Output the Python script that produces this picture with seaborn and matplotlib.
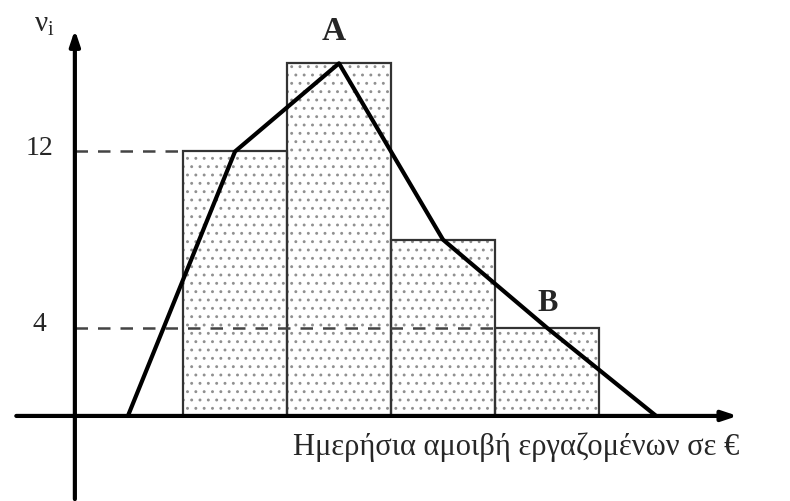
import matplotlib
matplotlib.use("Agg")
import matplotlib.pyplot as plt
import seaborn as sns

# class mid points (in class-width units) and frequencies
class_mids = [1.5, 2.5, 3.5, 4.5]
freqs = [12, 16, 8, 4]

# frequency polygon
poly_x = [0.47, 1.5, 2.5, 3.5, 4.5, 5.55]
poly_y = [0, 12, 16, 8, 4, 0]

ytick_vals = [4, 12]
ytick_labels = ["4", "12"]
x_label = "Ημερήσια αμοιβή εργαζομένων σε €"

sns.set_style("white")
plt.rcParams["font.family"] = ["Liberation Serif", "DejaVu Serif"]
plt.rcParams["hatch.linewidth"] = 0.9

fig = plt.figure(figsize=(7.9, 5.02), dpi=100)
ax = fig.add_axes([0, 0, 1, 1])
ax.set_xlim(-0.76, 6.837)
ax.set_ylim(-3.86, 18.92)
ax.axis("off")

# dotted fill
sns.barplot(x=class_mids, y=freqs, native_scale=True, width=1, color="white",
            ax=ax, zorder=1)
for p in ax.patches:
    p.set_hatch("..")
    p.set_edgecolor("#909090")
    p.set_linewidth(0)
# outlines
for m, f in zip(class_mids, freqs):
    ax.add_patch(plt.Rectangle((m - 0.5, 0), 1, f, fill=False,
                               edgecolor="#333333", lw=1.6, zorder=2))

# dashed guide lines
ax.plot([-0.04, 1.0], [12, 12], ls=(0, (5, 4)), color="#444444", lw=1.8, zorder=3)
ax.plot([-0.04, 4.0], [4, 4], ls=(0, (5, 4)), color="#444444", lw=1.8, zorder=3)

# frequency polygon
sns.lineplot(x=poly_x, y=poly_y, color="black", lw=3, ax=ax, zorder=5,
             sort=False)

# axes with arrows
ax.annotate("", xy=(6.36, 0), xytext=(-0.63, 0),
            arrowprops=dict(arrowstyle="-|>,head_length=0.9,head_width=0.3",
                            color="black", lw=3), zorder=6)
ax.annotate("", xy=(-0.04, 17.65), xytext=(-0.04, -3.9),
            arrowprops=dict(arrowstyle="-|>,head_length=0.9,head_width=0.3",
                            color="black", lw=3), zorder=6)

for v, lab in zip(ytick_vals, ytick_labels):
    ax.text(-0.38, v + 0.2, lab, ha="center", va="center", fontsize=20)

ax.text(-0.33, 17.8, r"$\mathregular{\nu_i}$", ha="center", va="center",
        fontsize=21)
ax.text(2.45, 17.5, "A", ha="center", va="center", fontsize=24,
        fontweight="bold")
ax.text(4.51, 5.15, "B", ha="center", va="center", fontsize=22,
        fontweight="bold")
ax.text(4.2, -1.35, x_label, ha="center", va="center", fontsize=22)

fig.savefig("out.png", dpi=100)
